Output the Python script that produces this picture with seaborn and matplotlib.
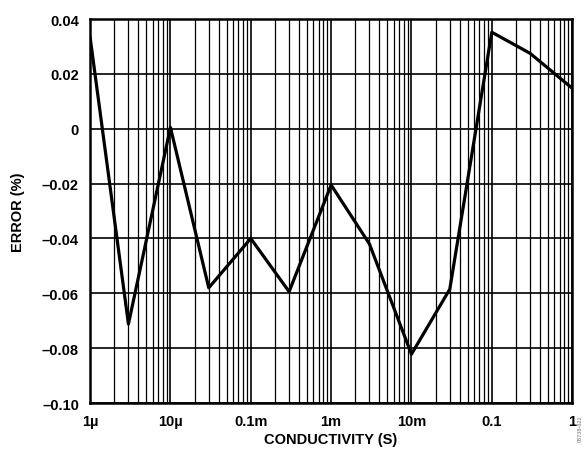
import matplotlib.pyplot as plt
import matplotlib.ticker as mticker
import seaborn as sns
import pandas as pd
import numpy as np

# conductivity points (S) and measured error (%)
conductivity = [1e-6, 3e-6, 1e-5, 3e-5, 1e-4, 3e-4, 1e-3, 3e-3, 1e-2, 3e-2, 1e-1, 3e-1, 1.0]
error_pct = [0.0334, -0.0712, 0.0005, -0.0580, -0.0400, -0.0594, -0.0205, -0.0420, -0.0822, -0.0585, 0.0352, 0.0275, 0.0148]

x_ticks = [1e-6, 1e-5, 1e-4, 1e-3, 1e-2, 1e-1, 1.0]
x_labels = ['1µ', '10µ', '0.1m', '1m', '10m', '0.1', '1']
y_ticks = [0.04, 0.02, 0, -0.02, -0.04, -0.06, -0.08, -0.10]
y_labels = ['0.04', '0.02', '0', '–0.02', '–0.04', '–0.06', '–0.08', '–0.10']

df = pd.DataFrame({'conductivity': conductivity, 'error': error_pct})

sns.set_style('white')
plt.rcParams['font.family'] = ['Liberation Sans', 'DejaVu Sans']
plt.rcParams['font.weight'] = 'bold'
plt.rcParams['text.color'] = 'black'
plt.rcParams['axes.labelcolor'] = 'black'
plt.rcParams['xtick.color'] = 'black'
plt.rcParams['ytick.color'] = 'black'

fig = plt.figure(figsize=(5.85, 4.56), dpi=100)
ax = fig.add_axes([0.154, 0.114, 0.824, 0.842])

sns.lineplot(data=df, x='conductivity', y='error', ax=ax, color='black', linewidth=2.3, zorder=5)

ax.set_xscale('log')
ax.set_xlim(1e-6, 1.0)
ax.set_ylim(-0.10, 0.04)

ax.xaxis.set_minor_locator(mticker.LogLocator(base=10, subs=np.arange(2, 10), numticks=20))
ax.xaxis.set_minor_formatter(mticker.NullFormatter())
ax.set_xticks(x_ticks)
ax.set_xticklabels(x_labels)
ax.set_yticks(y_ticks)
ax.set_yticklabels(y_labels)

ax.grid(True, which='major', axis='both', color='black', linewidth=1.2)
ax.grid(True, which='minor', axis='x', color='black', linewidth=0.9)
ax.tick_params(axis='both', which='both', length=0, labelsize=10.5, colors='black')
ax.tick_params(axis='x', pad=8)
ax.tick_params(axis='y', pad=8)
for lbl in ax.get_xticklabels() + ax.get_yticklabels():
    lbl.set_fontweight('bold')

for s in ax.spines.values():
    s.set_color('black')
    s.set_linewidth(1.8)

ax.set_xlabel('CONDUCTIVITY (S)', fontsize=10.5, fontweight='bold', labelpad=3, color='black')
ax.set_ylabel('ERROR (%)', fontsize=10.5, fontweight='bold', labelpad=12, color='black')

fig.text(0.992, 0.06, '05738-021', rotation=90, fontsize=4, color='#999999',
         ha='center', va='center')

fig.savefig('out.png', dpi=100)
